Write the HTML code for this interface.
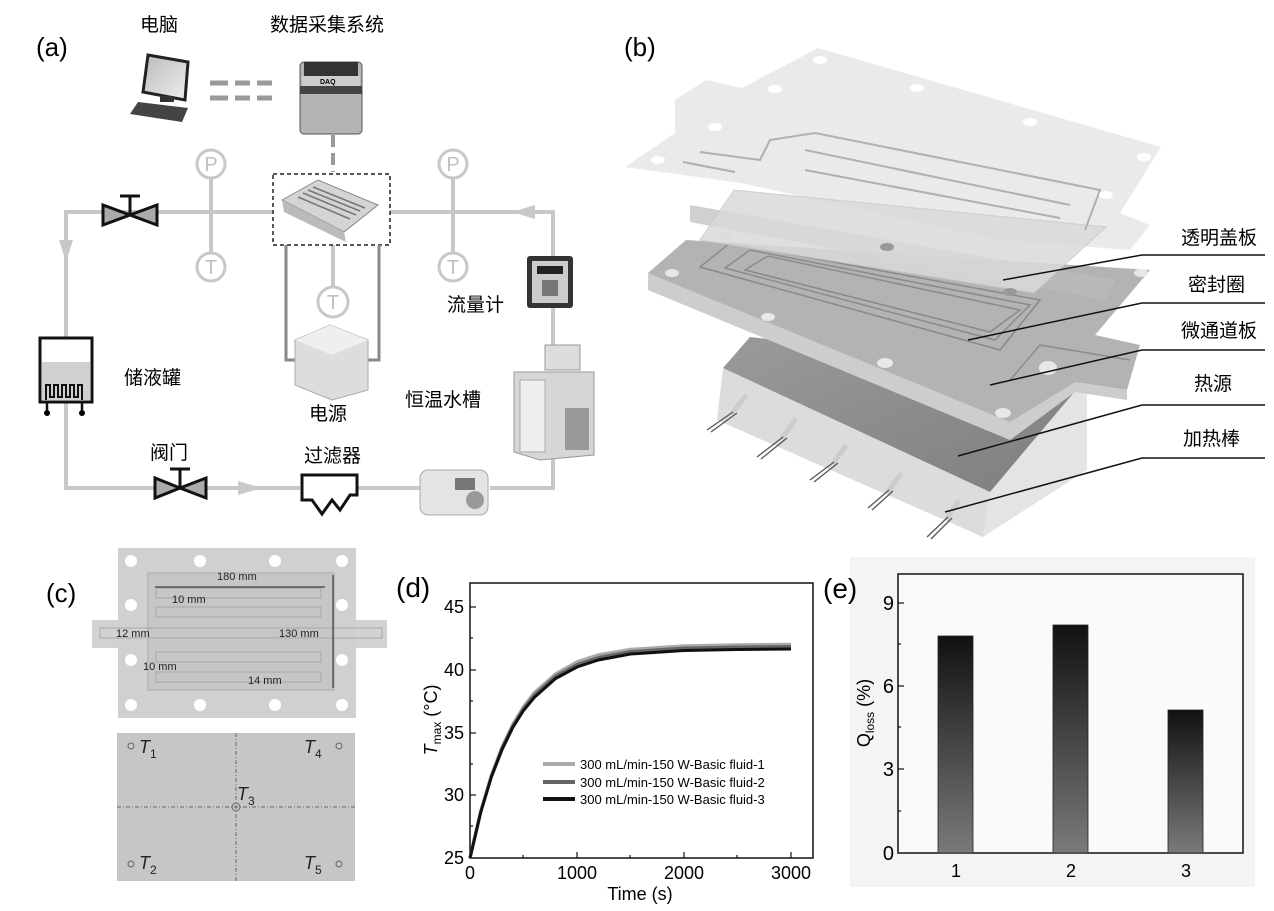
<!DOCTYPE html>
<html><head><meta charset="utf-8"><style>
html,body{margin:0;padding:0;background:#fff;}
svg{display:block;font-family:"Liberation Sans","Noto Sans CJK SC",sans-serif;}
</style></head><body>
<svg width="1274" height="911" viewBox="0 0 1274 911" xmlns="http://www.w3.org/2000/svg">
<defs>
<linearGradient id="bar" x1="0" y1="0" x2="0" y2="1"><stop offset="0" stop-color="#111"/><stop offset="1" stop-color="#7a7a7a"/></linearGradient>
<linearGradient id="mon" x1="0" y1="0" x2="1" y2="1"><stop offset="0" stop-color="#bbb"/><stop offset="1" stop-color="#eee"/></linearGradient>
<linearGradient id="dk" x1="0" y1="0" x2="1" y2="1"><stop offset="0" stop-color="#9a9a9a"/><stop offset="1" stop-color="#7e7e7e"/></linearGradient>
</defs>
<!-- ============ (a) ============ -->
<text x="36" y="56" font-size="26">(a)</text>
<text x="140" y="31" font-size="19">电脑</text>
<text x="270" y="31" font-size="19">数据采集系统</text>
<polygon points="148,55 188,62 185,100 143,92" fill="url(#mon)" stroke="#222" stroke-width="3"/>
<rect x="160" y="96" width="14" height="6" fill="#333"/>
<polygon points="138,102 188,108 182,122 130,114" fill="#444"/>
<g stroke="#9a9a9a" stroke-width="5"><line x1="210" y1="83" x2="228" y2="83"/><line x1="235" y1="83" x2="250" y2="83"/><line x1="257" y1="83" x2="272" y2="83"/><line x1="210" y1="98" x2="228" y2="98"/><line x1="235" y1="98" x2="250" y2="98"/><line x1="257" y1="98" x2="272" y2="98"/></g>
<rect x="300" y="62" width="62" height="72" rx="4" fill="#b4b4b4" stroke="#555"/>
<rect x="304" y="62" width="54" height="14" fill="#333"/>
<rect x="302" y="76" width="58" height="10" fill="#ccc"/>
<text x="320" y="84" font-size="7" font-weight="bold">DAQ</text>
<rect x="300" y="86" width="62" height="8" fill="#444"/>
<line x1="333" y1="135" x2="333" y2="172" stroke="#999" stroke-width="4" stroke-dasharray="12,6"/>
<g stroke="#c8c8c8" stroke-width="4" fill="none">
<polyline points="272,212 66,212 66,338"/>
<polyline points="66,402 66,488 300,488"/>
<line x1="355" y1="488" x2="420" y2="488"/>
<polyline points="490,488 553,488 553,455"/>
<polyline points="553,345 553,305"/>
<polyline points="553,260 553,212 390,212"/>
<line x1="211" y1="178" x2="211" y2="252"/>
<line x1="453" y1="178" x2="453" y2="252"/>
<line x1="333" y1="245" x2="333" y2="287"/>
</g>
<g fill="#c8c8c8"><polygon points="59,240 73,240 66,262"/><polygon points="238,481 238,495 262,488"/><polygon points="535,205 535,219 512,212"/></g>
<g stroke="#c8c8c8" stroke-width="3" fill="#fff">
<circle cx="211" cy="164" r="14"/><circle cx="453" cy="164" r="14"/><circle cx="211" cy="267" r="14"/><circle cx="453" cy="267" r="14"/><circle cx="333" cy="302" r="15"/></g>
<g fill="#c0c0c0" font-size="20" text-anchor="middle"><text x="211" y="171">P</text><text x="453" y="171">P</text><text x="211" y="274">T</text><text x="453" y="274">T</text><text x="333" y="309">T</text></g>
<g stroke="#111" stroke-width="3" fill="#aaa">
<polygon points="103,205 103,225 130,215"/><polygon points="157,205 157,225 130,215"/><line x1="130" y1="215" x2="130" y2="197"/><line x1="120" y1="196" x2="140" y2="196"/>
<polygon points="155,478 155,498 180,488"/><polygon points="206,478 206,498 180,488"/><line x1="180" y1="488" x2="180" y2="470"/><line x1="170" y1="469" x2="190" y2="469"/>
</g>
<rect x="273" y="174" width="117" height="71" fill="none" stroke="#222" stroke-width="1.5" stroke-dasharray="4,3"/>
<polygon points="282,200 318,180 378,205 344,232" fill="#d4d4d4" stroke="#888"/>
<polygon points="282,200 344,232 346,242 284,212" fill="#bbb"/>
<g stroke="#777" stroke-width="1.5"><line x1="298" y1="197" x2="350" y2="219"/><line x1="303" y1="193" x2="356" y2="215"/><line x1="308" y1="190" x2="360" y2="211"/><line x1="313" y1="187" x2="365" y2="208"/></g>
<g stroke="#888" stroke-width="3" fill="none"><polyline points="286,245 286,360 298,360"/><polyline points="379,245 379,360 368,360"/></g>
<polygon points="295,340 330,325 368,340 368,390 332,400 295,385" fill="#ddd" stroke="#aaa"/>
<polygon points="295,340 330,325 368,340 332,355" fill="#efefef"/>
<text x="309" y="420" font-size="19">电源</text>
<rect x="40" y="338" width="52" height="64" fill="#fff" stroke="#111" stroke-width="3"/>
<rect x="42" y="362" width="48" height="38" fill="#d0d0d0"/>
<path d="M46,400 V385 h4 v12 h4 v-12 h4 v12 h4 v-12 h4 v12 h4 v-12 h4 v12 h4 v-12 h4 V400" fill="none" stroke="#111" stroke-width="2"/>
<g stroke="#111" stroke-width="2.5"><line x1="47" y1="402" x2="47" y2="411"/><line x1="82" y1="402" x2="82" y2="411"/></g>
<circle cx="47" cy="413" r="3"/><circle cx="82" cy="413" r="3"/>
<text x="124" y="384" font-size="19">储液罐</text>
<text x="150" y="459" font-size="19">阀门</text>
<text x="304" y="462" font-size="19">过滤器</text>
<path d="M302,475 H357 V495 H350 L340,510 L332,500 L322,514 L312,500 H302 Z" fill="#fff" stroke="#111" stroke-width="3"/>
<rect x="420" y="470" width="68" height="45" rx="8" fill="#e4e4e4" stroke="#aaa"/>
<circle cx="475" cy="500" r="9" fill="#999"/><rect x="455" y="478" width="20" height="12" fill="#777"/>
<rect x="527" y="256" width="46" height="52" rx="3" fill="#333"/>
<rect x="532" y="261" width="36" height="42" fill="#ccc"/>
<rect x="537" y="266" width="26" height="8" fill="#222"/>
<rect x="542" y="280" width="16" height="16" fill="#777"/>
<text x="447" y="311" font-size="19">流量计</text>
<rect x="545" y="345" width="35" height="25" fill="#ddd" stroke="#999"/>
<polygon points="514,372 594,372 594,455 540,460 514,452" fill="#d6d6d6" stroke="#999"/>
<rect x="520" y="380" width="25" height="72" fill="#eee" stroke="#aaa"/>
<rect x="565" y="408" width="24" height="42" fill="#999"/>
<text x="405" y="406" font-size="19">恒温水槽</text>

<!-- ============ (b) ============ -->
<text x="624" y="56" font-size="26">(b)</text>
<!-- block -->
<polygon points="723,368 990,492 983,537 717,420" fill="#dcdcdc"/>
<polygon points="990,492 1087,377 1087,470 983,537" fill="#e4e4e4"/>
<polygon points="723,368 750,337 1087,377 990,492" fill="url(#dk)"/>
<g stroke="#ccc" stroke-width="5" stroke-linecap="round"><line x1="745" y1="397" x2="733" y2="412"/><line x1="795" y1="420" x2="783" y2="437"/><line x1="845" y1="447" x2="834" y2="462"/><line x1="900" y1="475" x2="889" y2="490"/><line x1="958" y1="502" x2="948" y2="517"/></g>
<g stroke="#555" stroke-width="1.3"><line x1="733" y1="412" x2="707" y2="430"/><line x1="737" y1="413" x2="711" y2="432"/><line x1="783" y1="437" x2="757" y2="457"/><line x1="787" y1="438" x2="761" y2="459"/><line x1="834" y1="462" x2="810" y2="480"/><line x1="838" y1="463" x2="814" y2="482"/><line x1="889" y1="490" x2="868" y2="508"/><line x1="893" y1="491" x2="872" y2="510"/><line x1="948" y1="517" x2="927" y2="537"/><line x1="952" y1="518" x2="931" y2="539"/></g>
<!-- microchannel plate -->
<polygon points="648,273 686,240 1150,270 1095,335 1140,345 1127,390 1075,382 1010,422 648,281" fill="#b3b3b3"/>
<polygon points="648,273 1010,422 1075,382 1127,390 1127,400 1075,392 1010,440 648,290" fill="#cdcdcd"/>
<g fill="none" stroke="#8a8a8a" stroke-width="1.5"><polygon points="700,267 730,243 1040,300 1000,350"/><polygon points="725,268 750,250 1030,305 995,340"/><polygon points="745,270 768,256 1020,310 990,332"/><polyline points="1010,380 1040,345 1130,360"/></g>
<g fill="#e8e8e8"><ellipse cx="672" cy="273" rx="7" ry="4"/><ellipse cx="727" cy="237" rx="7" ry="4"/><ellipse cx="768" cy="317" rx="7" ry="4"/><ellipse cx="885" cy="363" rx="8" ry="5"/><ellipse cx="1003" cy="413" rx="8" ry="5"/><ellipse cx="1141" cy="273" rx="7" ry="4"/><ellipse cx="1048" cy="368" rx="9" ry="7"/></g>
<polygon points="690,205 1115,280 1105,300 690,222" fill="#bcbcbc" opacity="0.7"/>
<!-- top cover -->
<polygon points="625,167 675,133 675,100 706,80 742,88 818,48 1161,147 1120,213 1150,225 1130,250 1000,240 741,183" fill="#eaeaea"/>
<polygon points="734,190 1106,227 1034,293 700,240" fill="#dadada" opacity="0.85" stroke="#c8c8c8"/>
<g fill="none" stroke="#b0b0b0" stroke-width="2"><polyline points="700,152 760,160 770,140 815,133 1100,190 1085,230"/><line x1="683" y1="162" x2="735" y2="172"/><polyline points="805,150 1070,205"/><polyline points="805,170 1060,218"/></g>
<g fill="#fff"><ellipse cx="820" cy="60" rx="7" ry="4"/><ellipse cx="917" cy="88" rx="7" ry="4"/><ellipse cx="1030" cy="122" rx="7" ry="4"/><ellipse cx="1144" cy="157" rx="7" ry="4"/><ellipse cx="1106" cy="195" rx="7" ry="4"/><ellipse cx="775" cy="89" rx="7" ry="4"/><ellipse cx="715" cy="127" rx="7" ry="4"/><ellipse cx="658" cy="160" rx="7" ry="4"/></g>
<g fill="#999"><ellipse cx="887" cy="247" rx="7" ry="4"/><ellipse cx="1010" cy="292" rx="7" ry="4"/></g>
<g fill="none" stroke="#111" stroke-width="1.5">
<polyline points="1003,280 1142,255 1265,255"/>
<polyline points="968,340 1142,303 1265,303"/>
<polyline points="990,385 1142,350 1265,350"/>
<polyline points="958,456 1142,405 1265,405"/>
<polyline points="945,512 1142,458 1265,458"/>
</g>
<g font-size="19" text-anchor="end"><text x="1257" y="244">透明盖板</text><text x="1245" y="291">密封圈</text><text x="1257" y="337">微通道板</text><text x="1232" y="390">热源</text><text x="1240" y="445">加热棒</text></g>

<!-- ============ (c) ============ -->
<text x="46" y="602" font-size="26">(c)</text>
<rect x="92" y="620" width="30" height="28" fill="#d2d2d2"/><rect x="352" y="620" width="35" height="28" fill="#d2d2d2"/>
<rect x="118" y="548" width="238" height="170" fill="#d0d0d0"/>
<rect x="148" y="573" width="186" height="117" fill="#c6c6c6" stroke="#aaa"/>
<g fill="none" stroke="#a8a8a8"><rect x="156" y="588" width="165" height="10"/><rect x="156" y="607" width="165" height="10"/><rect x="100" y="628" width="282" height="10"/><rect x="156" y="652" width="165" height="10"/><rect x="156" y="672" width="165" height="10"/></g>
<g fill="#fff"><circle cx="131" cy="561" r="6"/><circle cx="200" cy="561" r="6"/><circle cx="275" cy="561" r="6"/><circle cx="342" cy="561" r="6"/><circle cx="131" cy="705" r="6"/><circle cx="200" cy="705" r="6"/><circle cx="275" cy="705" r="6"/><circle cx="342" cy="705" r="6"/><circle cx="131" cy="605" r="6"/><circle cx="342" cy="605" r="6"/><circle cx="131" cy="660" r="6"/><circle cx="342" cy="660" r="6"/></g>
<g stroke="#222" stroke-width="1"><line x1="155" y1="587" x2="325" y2="587"/><line x1="333" y1="575" x2="333" y2="688"/></g>
<g font-size="11" fill="#222"><text x="217" y="580">180 mm</text><text x="172" y="603">10 mm</text><text x="116" y="637">12 mm</text><text x="279" y="637">130 mm</text><text x="143" y="670">10 mm</text><text x="248" y="684">14 mm</text></g>
<rect x="117" y="733" width="238" height="148" fill="#c6c6c6"/>
<g stroke="#666" stroke-width="1" stroke-dasharray="4,2,1,2"><line x1="236" y1="733" x2="236" y2="881"/><line x1="117" y1="807" x2="355" y2="807"/></g>
<g fill="none" stroke="#666"><circle cx="131" cy="746" r="3"/><circle cx="339" cy="746" r="3"/><circle cx="236" cy="807" r="4"/><circle cx="131" cy="864" r="3"/><circle cx="339" cy="864" r="3"/></g>
<g font-size="18" font-style="italic" fill="#222"><text x="139" y="753">T<tspan font-size="12" font-style="normal" dy="5">1</tspan></text><text x="304" y="753">T<tspan font-size="12" font-style="normal" dy="5">4</tspan></text><text x="237" y="800">T<tspan font-size="12" font-style="normal" dy="5">3</tspan></text><text x="139" y="869">T<tspan font-size="12" font-style="normal" dy="5">2</tspan></text><text x="304" y="869">T<tspan font-size="12" font-style="normal" dy="5">5</tspan></text></g>

<!-- ============ (d) ============ -->
<text x="396" y="597" font-size="28">(d)</text>
<rect x="470" y="583" width="343" height="275" fill="none" stroke="#111" stroke-width="1.5"/>
<g stroke="#111" stroke-width="1.2"><line x1="470" y1="607" x2="476" y2="607"/><line x1="470" y1="670" x2="476" y2="670"/><line x1="470" y1="733" x2="476" y2="733"/><line x1="470" y1="795" x2="476" y2="795"/><line x1="470" y1="638" x2="473" y2="638"/><line x1="470" y1="701" x2="473" y2="701"/><line x1="470" y1="764" x2="473" y2="764"/><line x1="470" y1="826" x2="473" y2="826"/><line x1="577" y1="858" x2="577" y2="852"/><line x1="684" y1="858" x2="684" y2="852"/><line x1="791" y1="858" x2="791" y2="852"/><line x1="523" y1="858" x2="523" y2="855"/><line x1="630" y1="858" x2="630" y2="855"/><line x1="737" y1="858" x2="737" y2="855"/></g>
<g font-size="18" text-anchor="end"><text x="464" y="613">45</text><text x="464" y="676">40</text><text x="464" y="739">35</text><text x="464" y="801">30</text><text x="464" y="864">25</text></g>
<g font-size="18" text-anchor="middle"><text x="470" y="879">0</text><text x="577" y="879">1000</text><text x="684" y="879">2000</text><text x="791" y="879">3000</text></g>
<text x="640" y="900" font-size="18" text-anchor="middle">Time (s)</text>
<text transform="translate(437,720) rotate(-90)" font-size="18" text-anchor="middle"><tspan font-style="italic">T</tspan><tspan font-size="12" dy="4">max</tspan><tspan dy="-4"> (°C)</tspan></text>
<polyline fill="none" stroke="#aaa" stroke-width="3.5" points="470,858 480.7,811.5 491.4,775.5 502.1,747 512.8,724.5 523.5,707 534.2,693 555.6,674 577,662 598.4,655 630.5,649.5 684,646 737.5,645 791,644.5"/>
<polyline fill="none" stroke="#666" stroke-width="3" points="470,858 480.7,812 491.4,776 502.1,748 512.8,726 523.5,708.5 534.2,695 555.6,676 577,664.5 598.4,657.5 630.5,651.5 684,648 737.5,647 791,646.5"/>
<polyline fill="none" stroke="#111" stroke-width="3" points="470,858 480.7,812.5 491.4,777 502.1,749.5 512.8,727.5 523.5,710.5 534.2,697.5 555.6,678.5 577,667 598.4,660 630.5,654 684,650.5 737.5,649.5 791,649"/>
<g stroke-width="4"><line x1="543" y1="764" x2="575" y2="764" stroke="#aaa"/><line x1="543" y1="782" x2="575" y2="782" stroke="#666"/><line x1="543" y1="799" x2="575" y2="799" stroke="#111"/></g>
<g font-size="13"><text x="580" y="769">300 mL/min-150 W-Basic fluid-1</text><text x="580" y="787">300 mL/min-150 W-Basic fluid-2</text><text x="580" y="804">300 mL/min-150 W-Basic fluid-3</text></g>

<!-- ============ (e) ============ -->
<rect x="850" y="557" width="405" height="330" fill="#f4f4f4"/>
<text x="823" y="598" font-size="28">(e)</text>
<rect x="898" y="574" width="345" height="279" fill="#fafafa" stroke="#111" stroke-width="1.5"/>
<g stroke="#111" stroke-width="1.2"><line x1="898" y1="603" x2="904" y2="603"/><line x1="898" y1="686" x2="904" y2="686"/><line x1="898" y1="769" x2="904" y2="769"/><line x1="898" y1="644" x2="901" y2="644"/><line x1="898" y1="727" x2="901" y2="727"/><line x1="898" y1="811" x2="901" y2="811"/></g>
<g font-size="20" text-anchor="end"><text x="894" y="610">9</text><text x="894" y="693">6</text><text x="894" y="776">3</text><text x="894" y="860">0</text></g>
<rect x="938" y="636" width="35" height="217" fill="url(#bar)" stroke="#222" stroke-width="0.8"/>
<rect x="1053" y="625" width="35" height="228" fill="url(#bar)" stroke="#222" stroke-width="0.8"/>
<rect x="1168" y="710" width="35" height="143" fill="url(#bar)" stroke="#222" stroke-width="0.8"/>
<g font-size="18" text-anchor="middle"><text x="956" y="877">1</text><text x="1071" y="877">2</text><text x="1186" y="877">3</text></g>
<text transform="translate(870,713) rotate(-90)" font-size="18" text-anchor="middle">Q<tspan font-size="12" dy="4">loss</tspan><tspan dy="-4"> (%)</tspan></text>
</svg>
</body></html>
